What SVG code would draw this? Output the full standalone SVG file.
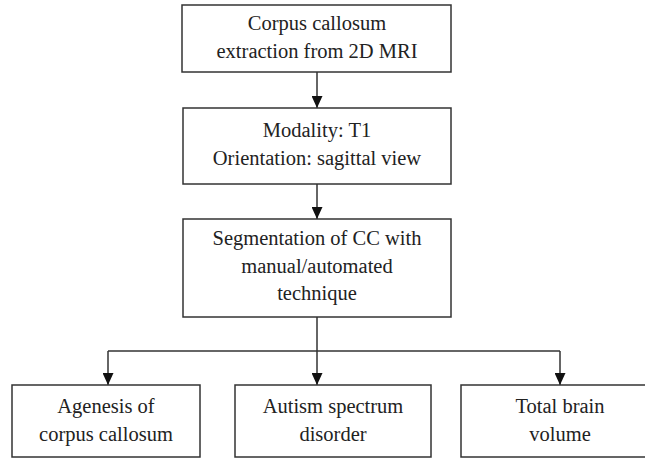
<svg xmlns="http://www.w3.org/2000/svg" width="645" height="458" viewBox="0 0 645 458">
<defs>
<style>
.box{fill:#fff;stroke:#333;stroke-width:1.5}
.t{font-family:'Liberation Serif','Times New Roman','DejaVu Serif',serif;font-size:20.5px;fill:#222;text-anchor:middle}
.c{fill:none;stroke:#333;stroke-width:1.5}
</style>
<marker id="ah" markerWidth="12" markerHeight="11" refX="12" refY="5.5" orient="auto" markerUnits="userSpaceOnUse">
<path d="M0,0 L12,5.5 L0,11 Z" fill="#111"/>
</marker>
</defs>
<rect width="645" height="458" fill="#fff"/>
<g id="connectors">
<path class="c" d="M317,72 V108" marker-end="url(#ah)"/>
<path class="c" d="M317,184 V219" marker-end="url(#ah)"/>
<path class="c" d="M317,317 V385" marker-end="url(#ah)"/>
<path class="c" d="M108,351 H560"/>
<path class="c" d="M108,351 V385" marker-end="url(#ah)"/>
<path class="c" d="M560,351 V385" marker-end="url(#ah)"/>
</g>
<g id="n1">
<rect class="box" x="182" y="5" width="269" height="67"/>
<text class="t" x="317" y="30">Corpus callosum</text>
<text class="t" x="317" y="58">extraction from 2D MRI</text>
</g>
<g id="n2">
<rect class="box" x="183" y="108" width="268" height="76"/>
<text class="t" x="317" y="137">Modality: T1</text>
<text class="t" x="317" y="165">Orientation: sagittal view</text>
</g>
<g id="n3">
<rect class="box" x="183" y="219" width="268" height="98"/>
<text class="t" x="317" y="245">Segmentation of CC with</text>
<text class="t" x="317" y="273">manual/automated</text>
<text class="t" x="317" y="300">technique</text>
</g>
<g id="n4">
<rect class="box" x="12" y="385" width="188" height="72"/>
<text class="t" x="106" y="413">Agenesis of</text>
<text class="t" x="106" y="441">corpus callosum</text>
</g>
<g id="n5">
<rect class="box" x="235" y="385" width="196" height="72"/>
<text class="t" x="333" y="413">Autism spectrum</text>
<text class="t" x="333" y="441">disorder</text>
</g>
<g id="n6">
<rect class="box" x="461" y="385" width="190" height="72"/>
<text class="t" x="560" y="413">Total brain</text>
<text class="t" x="560" y="441">volume</text>
</g>
</svg>
